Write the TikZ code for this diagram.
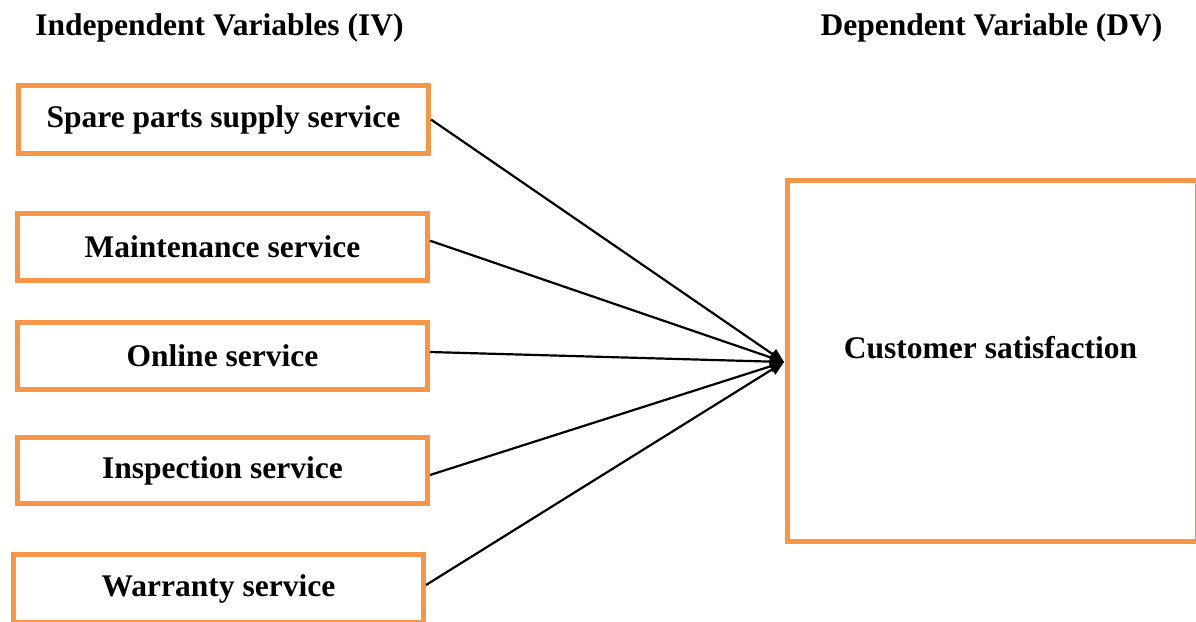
\documentclass[tikz,border=0pt]{standalone}
\usepackage{fontspec}
\setmainfont{Liberation Serif}
\usetikzlibrary{arrows.meta}
\definecolor{boxorange}{RGB}{247,150,70}
\begin{document}
\begin{tikzpicture}[x=1pt,y=-1pt,
  every node/.style={font=\fontsize{31.5}{36}\selectfont\bfseries},
  ivbox/.style={draw=boxorange,line width=5pt,minimum width=410pt,minimum height=68pt,inner sep=0pt},
  link/.style={line width=2.2pt,-{Triangle[length=14pt,width=12pt]}}]
\useasboundingbox (0,0) rectangle (1196,621);
\node at (219.5,28) (ivt) {Independent Variables (IV)};
\node at (991.5,28) (dvt) {Dependent Variable (DV)};
\node[ivbox] (a) at (223.5,119.5) {Spare parts supply service};
\node[ivbox,minimum height=67pt] (b) at (222.5,247) {Maintenance service};
\node[ivbox,minimum height=67pt] (c) at (222.5,356) {Online service};
\node[ivbox,minimum height=66pt] (d) at (222.5,470.5) {Inspection service};
\node[ivbox] (e) at (218.5,588.5) {Warranty service};
\node[draw=boxorange,line width=5pt,minimum width=410pt,minimum height=361pt] (cs) at (992,360.5) {};
\node at (990.5,348) (cst) {Customer satisfaction};
\coordinate (tip) at (784,362);
\draw[link] (a.east) -- (tip);
\draw[link] ([yshift=6.3pt]b.east) -- (tip);
\draw[link] ([yshift=4pt]c.east) -- (tip);
\draw[link] ([yshift=-4.5pt]d.east) -- (tip);
\draw[link] ([yshift=3.5pt]e.east) -- (tip);
\end{tikzpicture}
\end{document}
